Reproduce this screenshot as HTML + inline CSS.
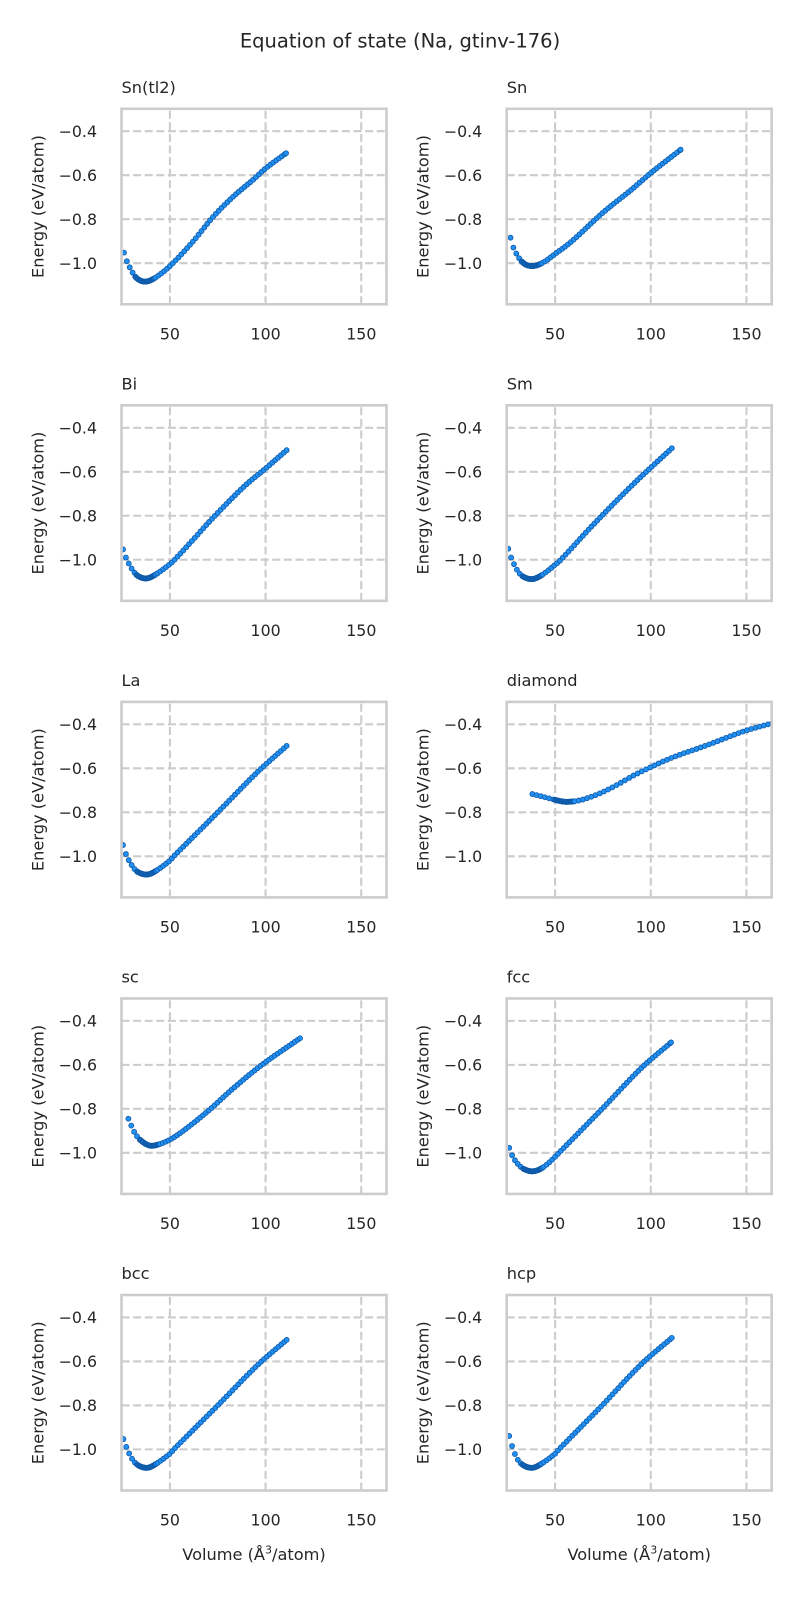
<!DOCTYPE html>
<html>
<head>
<meta charset="utf-8">
<style>
html,body{margin:0;padding:0;background:#fff;}
svg{display:block;font-family:"DejaVu Sans","Liberation Sans",sans-serif;}
</style>
</head>
<body>
<svg id="fig" width="800" height="1600" viewBox="0 0 800 1600" xmlns="http://www.w3.org/2000/svg">
<rect width="800" height="1600" fill="#ffffff"/>
<g id="layer-grid"></g>
<g id="layer-data"></g>
<g id="layer-spine"></g>
<g fill="#262626">
<text x="400" y="47.3" text-anchor="middle" font-size="19.5">Equation of state (Na, gtinv-176)</text>

<g font-size="16.2">
<text x="121.5" y="92.8">Sn(tl2)</text>
<text x="506.7" y="92.8">Sn</text>
<text x="121.5" y="389.35">Bi</text>
<text x="506.7" y="389.35">Sm</text>
<text x="121.5" y="685.9">La</text>
<text x="506.7" y="685.9">diamond</text>
<text x="121.5" y="982.45">sc</text>
<text x="506.7" y="982.45">fcc</text>
<text x="121.5" y="1279">bcc</text>
<text x="506.7" y="1279">hcp</text>
</g>

<g font-size="16.2" text-anchor="middle">
<text transform="translate(43.3,206.55) rotate(-90)">Energy (eV/atom)</text>
<text transform="translate(428.5,206.55) rotate(-90)">Energy (eV/atom)</text>
<text transform="translate(43.3,503.1) rotate(-90)">Energy (eV/atom)</text>
<text transform="translate(428.5,503.1) rotate(-90)">Energy (eV/atom)</text>
<text transform="translate(43.3,799.65) rotate(-90)">Energy (eV/atom)</text>
<text transform="translate(428.5,799.65) rotate(-90)">Energy (eV/atom)</text>
<text transform="translate(43.3,1096.2) rotate(-90)">Energy (eV/atom)</text>
<text transform="translate(428.5,1096.2) rotate(-90)">Energy (eV/atom)</text>
<text transform="translate(43.3,1392.75) rotate(-90)">Energy (eV/atom)</text>
<text transform="translate(428.5,1392.75) rotate(-90)">Energy (eV/atom)</text>
</g>

<g font-size="15.8" text-anchor="end">
<text x="97" y="136.8">−0.4</text><text x="97" y="180.8">−0.6</text><text x="97" y="224.8">−0.8</text><text x="97" y="268.8">−1.0</text>
<text x="482.2" y="136.8">−0.4</text><text x="482.2" y="180.8">−0.6</text><text x="482.2" y="224.8">−0.8</text><text x="482.2" y="268.8">−1.0</text>
<text x="97" y="433.4">−0.4</text><text x="97" y="477.4">−0.6</text><text x="97" y="521.4">−0.8</text><text x="97" y="565.4">−1.0</text>
<text x="482.2" y="433.4">−0.4</text><text x="482.2" y="477.4">−0.6</text><text x="482.2" y="521.4">−0.8</text><text x="482.2" y="565.4">−1.0</text>
<text x="97" y="729.9">−0.4</text><text x="97" y="773.9">−0.6</text><text x="97" y="817.9">−0.8</text><text x="97" y="861.9">−1.0</text>
<text x="482.2" y="729.9">−0.4</text><text x="482.2" y="773.9">−0.6</text><text x="482.2" y="817.9">−0.8</text><text x="482.2" y="861.9">−1.0</text>
<text x="97" y="1026.5">−0.4</text><text x="97" y="1070.5">−0.6</text><text x="97" y="1114.5">−0.8</text><text x="97" y="1158.5">−1.0</text>
<text x="482.2" y="1026.5">−0.4</text><text x="482.2" y="1070.5">−0.6</text><text x="482.2" y="1114.5">−0.8</text><text x="482.2" y="1158.5">−1.0</text>
<text x="97" y="1323">−0.4</text><text x="97" y="1367">−0.6</text><text x="97" y="1411">−0.8</text><text x="97" y="1455">−1.0</text>
<text x="482.2" y="1323">−0.4</text><text x="482.2" y="1367">−0.6</text><text x="482.2" y="1411">−0.8</text><text x="482.2" y="1455">−1.0</text>
</g>

<g font-size="15.8" text-anchor="middle">
<text x="169.9" y="339.3">50</text><text x="265.6" y="339.3">100</text><text x="361.3" y="339.3">150</text>
<text x="555.1" y="339.3">50</text><text x="650.8" y="339.3">100</text><text x="746.5" y="339.3">150</text>
<text x="169.9" y="635.85">50</text><text x="265.6" y="635.85">100</text><text x="361.3" y="635.85">150</text>
<text x="555.1" y="635.85">50</text><text x="650.8" y="635.85">100</text><text x="746.5" y="635.85">150</text>
<text x="169.9" y="932.4">50</text><text x="265.6" y="932.4">100</text><text x="361.3" y="932.4">150</text>
<text x="555.1" y="932.4">50</text><text x="650.8" y="932.4">100</text><text x="746.5" y="932.4">150</text>
<text x="169.9" y="1228.95">50</text><text x="265.6" y="1228.95">100</text><text x="361.3" y="1228.95">150</text>
<text x="555.1" y="1228.95">50</text><text x="650.8" y="1228.95">100</text><text x="746.5" y="1228.95">150</text>
<text x="169.9" y="1525.5">50</text><text x="265.6" y="1525.5">100</text><text x="361.3" y="1525.5">150</text>
<text x="555.1" y="1525.5">50</text><text x="650.8" y="1525.5">100</text><text x="746.5" y="1525.5">150</text>
</g>

<g font-size="16.2" text-anchor="middle">
<text x="254" y="1560">Volume (Å<tspan font-size="11" dy="-6.5">3</tspan><tspan dy="6.5">/atom)</tspan></text>
<text x="639.2" y="1560">Volume (Å<tspan font-size="11" dy="-6.5">3</tspan><tspan dy="6.5">/atom)</tspan></text>
</g>
</g>
</svg>

<script>
(function(){
var NS="http://www.w3.org/2000/svg";
var svg=document.getElementById('fig');
var gGrid=document.getElementById('layer-grid');
var gData=document.getElementById('layer-data');
var gSpine=document.getElementById('layer-spine');
var cols=[121.5,506.7], W=265, H=195.5;
var X0=24.7,X1=163.2,Y0=-1.187,Y1=-0.298;
function el(tag,attrs,parent){var e=document.createElementNS(NS,tag);for(var k in attrs)e.setAttribute(k,attrs[k]);parent.appendChild(e);return e;}
var defs=el('defs',{},svg);
var P=[
 {a:[[26,-0.952],[27,-0.981],[30,-1.035],[32.6,-1.068],[36.9,-1.084],[42,-1.068],[50,-1.013],[62,-0.902],[72.5,-0.79],[83,-0.698],[93.3,-0.622],[100,-0.569],[110.7,-0.5]]},
 {a:[[26.7,-0.884],[28,-0.925],[31,-0.975],[34,-1.003],[37.5,-1.013],[41,-1.008],[45,-0.99],[50,-0.958],[58.5,-0.902],[75,-0.77],[90,-0.665],[100,-0.59],[115.6,-0.484]]},
 {a:[[25.5,-0.953],[27,-0.99],[30,-1.04],[33,-1.072],[37.5,-1.085],[42,-1.07],[50,-1.02],[53,-0.995],[62,-0.91],[73,-0.805],[89,-0.665],[100,-0.585],[111,-0.502]]},
 {a:[[25.5,-0.95],[27,-0.99],[30,-1.045],[33,-1.075],[38,-1.088],[43,-1.07],[50,-1.023],[53,-1.0],[70,-0.84],[91,-0.655],[111,-0.493]]},
 {a:[[25.5,-0.949],[27,-0.99],[30,-1.04],[33,-1.07],[37.8,-1.083],[42,-1.07],[50,-1.02],[52,-1.0],[75,-0.8],[96,-0.615],[111,-0.498]]},
 {a:[[38.1,-0.717],[44,-0.73],[50.2,-0.744],[55,-0.752],[60,-0.75],[64.9,-0.741],[73.6,-0.713],[82.2,-0.676],[90.9,-0.633],[100.4,-0.593],[108.2,-0.562],[116.8,-0.533],[125.5,-0.507],[134.2,-0.479],[142.8,-0.45],[150.6,-0.426],[163.5,-0.395]],step:2.2},
 {a:[[28.3,-0.845],[30,-0.88],[32,-0.915],[35,-0.945],[39.4,-0.967],[44,-0.962],[50,-0.94],[57,-0.9],[70.6,-0.805],[82,-0.715],[97.6,-0.603],[118,-0.479]]},
 {a:[[26,-0.977],[28,-1.02],[31,-1.055],[34,-1.075],[38.4,-1.084],[43,-1.07],[48,-1.035],[52,-1.0],[74,-0.805],[95,-0.615],[110.6,-0.498]]},
 {a:[[25.7,-0.953],[27.5,-0.995],[30,-1.04],[33,-1.07],[37.8,-1.084],[42,-1.07],[50,-1.02],[52,-1.0],[75,-0.8],[96,-0.615],[111,-0.502]]},
 {a:[[26,-0.939],[27.5,-0.985],[30,-1.04],[33,-1.07],[37.8,-1.084],[42,-1.07],[50,-1.02],[52,-1.0],[74,-0.805],[95,-0.613],[111,-0.493]]}
];
function interp(a,v){
  var n=a.length;
  if(v<=a[0][0])return a[0][1];
  if(v>=a[n-1][0])return a[n-1][1];
  var k=0;while(k<n-2&&v>a[k+1][0])k++;
  function tan(i){
    if(i===0)return (a[1][1]-a[0][1])/(a[1][0]-a[0][0]);
    if(i===n-1)return (a[n-1][1]-a[n-2][1])/(a[n-1][0]-a[n-2][0]);
    return (a[i+1][1]-a[i-1][1])/(a[i+1][0]-a[i-1][0]);
  }
  var x0=a[k][0],x1=a[k+1][0],y0=a[k][1],y1=a[k+1][1];
  var h=x1-x0,t=(v-x0)/h;
  var m0=tan(k)*h,m1=tan(k+1)*h;
  var t2=t*t,t3=t2*t;
  return (2*t3-3*t2+1)*y0+(t3-2*t2+t)*m0+(-2*t3+3*t2)*y1+(t3-t2)*m1;
}
for(var i=0;i<10;i++){
  var r=Math.floor(i/2),c=i%2;
  var x0=cols[c],T=108.8+296.55*r,B=T+H;
  var sx=function(v){return x0+(v-X0)/(X1-X0)*W;};
  var sy=function(e){return T+(Y1-e)/(Y1-Y0)*H;};
  [50,100,150].forEach(function(v){
    var x=sx(v);
    el('line',{x1:x,y1:B,x2:x,y2:T,stroke:'#cccccc','stroke-width':2.1,'stroke-dasharray':'8 3.6'},gGrid);
  });
  [-0.4,-0.6,-0.8,-1.0].forEach(function(e){
    var y=sy(e);
    el('line',{x1:x0,y1:y,x2:x0+W,y2:y,stroke:'#cccccc','stroke-width':2.1,'stroke-dasharray':'8 3.6'},gGrid);
  });
  var cp=el('clipPath',{id:'cp'+i},defs);
  el('rect',{x:x0,y:T,width:W,height:H},cp);
  var g=el('g',{'clip-path':'url(#cp'+i+')'},gData);
  var a=P[i].a, step=P[i].step||1.5;
  var vs=[];
  var vStart=a[0][0], vEnd=a[a.length-1][0];
  for(var v=vStart;v<=vEnd+1e-6;v+=step)vs.push(v);
  if(vs[vs.length-1]<vEnd-0.3)vs.push(vEnd);
  var mi=0;for(var k=1;k<a.length;k++)if(a[k][1]<a[mi][1])mi=k;
  var vm=a[mi][0];
  for(var v2=vm-5;v2<=vm+5;v2+=0.4){if(v2>vStart&&v2<vEnd)vs.push(v2);}
  vs.sort(function(p,q){return p-q;});
  vs.forEach(function(v){
    el('circle',{cx:sx(v).toFixed(2),cy:sy(interp(a,v)).toFixed(2),r:2.5,fill:'#2190f3',stroke:'#0e59a8','stroke-width':0.8},g);
  });
  el('rect',{x:x0,y:T,width:W,height:H,fill:'none',stroke:'#cccccc','stroke-width':2.6},gSpine);
}
})();
</script>
</body>
</html>
